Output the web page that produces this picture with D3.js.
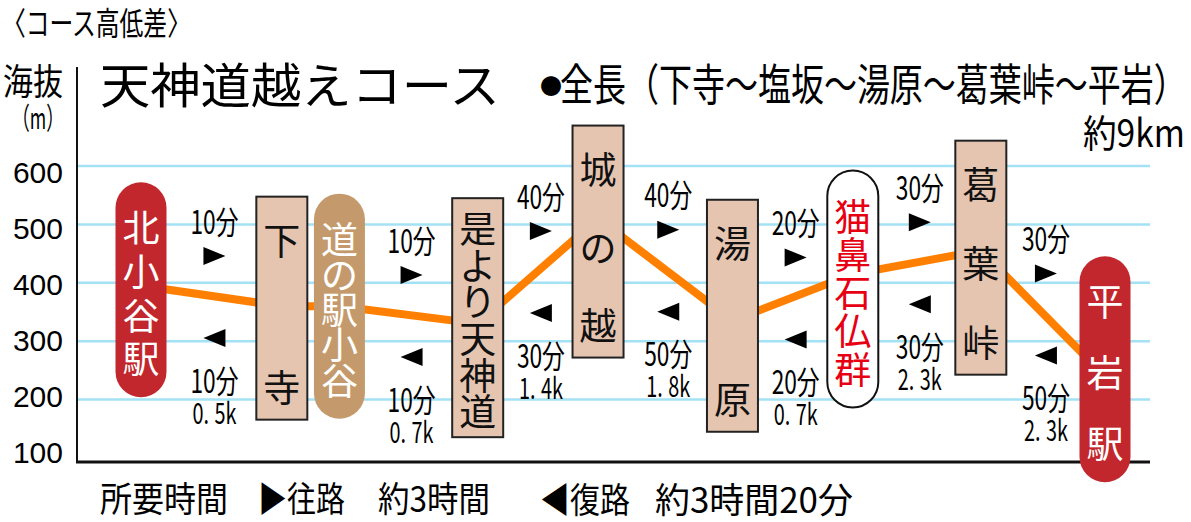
<!DOCTYPE html>
<html>
<head>
<meta charset="utf-8">
<script src="https://cdn.jsdelivr.net/npm/d3@7"></script>
<style>
  html, body { margin: 0; background: #fff; }
  svg { display: block; font-family: "Noto Sans CJK JP", "Noto Sans", sans-serif; }
</style>
</head>
<body>
<svg width="1191" height="522"></svg>
<script>
// --- Data ---
const stations = ["北小谷駅", "下寺", "道の駅小谷", "是より天神道", "城の越", "湯原", "猫鼻石仏群", "葛葉峠", "平岩駅"];
const elevations = [395, 360, 360, 330, 510, 335, 415, 455, 240];
const kinds = ["station", "spot", "michi", "spot", "spot", "spot", "sight", "spot", "station"];
const slots = [0, 1.1, 1.55, 2.63, 3.57, 4.62, 5.56, 6.56, 7.53]; // schematic order along the course
const legs = [[0, 1], [2, 3], [3, 4], [4, 5], [5, 6], [6, 7], [7, 8]];
const outbound = ["10分", "10分", "40分", "40分", "20分", "30分", "30分"];
const inbound = ["10分", "10分", "30分", "50分", "20分", "30分", "50分"];
const legDist = ["0.5k", "0.7k", "1.4k", "1.8k", "0.7k", "2.3k", "2.3k"];
const yTicks = [100, 200, 300, 400, 500, 600];

// --- Layout tweaks (px) ---
const boxShift = [4, 2, 0, -6, 23, -5, 15, 7, -7];
const boxH = [215, 223, 225, 239, 232, 232, 237, 234, 226];

const svg = d3.select("svg");
const x = d3.scaleLinear().domain([0, 7.53]).range([141, 1105]);
const y = d3.scaleLinear().domain([100, 600]).range([458, 166]);
const yLabel = d3.scaleLinear().domain([100, 600]).range([452, 172]);

const style = {
  station: { fill: "#c1272d", stroke: "none", text: "#fff", rx: 25.5 },
  michi:   { fill: "#c49a6c", stroke: "none", text: "#fff", rx: 25.5 },
  sight:   { fill: "#fff", stroke: "#111", text: "#e60012", rx: 25.5 },
  spot:    { fill: "#e6c5b0", stroke: "#222", text: "#111", rx: 0 }
};

// squeeze a text horizontally to a given width (condensed gothic look)
function squeeze(sel, px, py, width) {
  sel.each(function () {
    const w = this.getBBox().width;
    d3.select(this).attr("transform", `translate(${px},${py}) scale(${width / w},1)`);
  });
  return sel;
}
function label(txt, px, py, size, width, anchor = "start") {
  const t = svg.append("text")
    .attr("dominant-baseline", "central")
    .attr("text-anchor", anchor)
    .attr("font-size", size)
    .text(txt);
  return squeeze(t, px, py, width);
}
label("〈コース高低差〉", 2, 21, 32, 189);
label("海抜", 3, 80, 36, 60);
label("（m）", 12, 116, 30, 52);
label("天神道越えコース", 100, 82, 48, 400);
svg.append("text").attr("x", 540).attr("y", 84).attr("dominant-baseline", "central")
  .attr("font-size", 22).text("●");
label("全長（下寺～塩坂～湯原～葛葉峠～平岩）", 560, 82, 44, 627);
label("約9km", 1083, 130, 38, 102);

// legend
label("所要時間", 100, 497, 35, 128);
label("▶往路", 258, 497, 35, 87);
label("約3時間", 378, 497, 35, 112);
label("◀復路", 540, 497, 35, 90);
label("約3時間20分", 655, 497, 35, 198);

// grid + axis
const xLeft = 77, xRight = 1150;
svg.append("g").selectAll("line")
  .data(yTicks.filter(d => d > 100))
  .join("line")
  .attr("x1", xLeft).attr("x2", xRight)
  .attr("y1", d => y(d)).attr("y2", d => y(d))
  .attr("stroke", "#a3e1f4").attr("stroke-width", 2.5);

svg.append("g").selectAll("text")
  .data(yTicks)
  .join("text")
  .attr("x", 63).attr("y", d => yLabel(d))
  .attr("text-anchor", "end")
  .attr("dominant-baseline", "central")
  .attr("font-family", "'Liberation Sans', Arial, sans-serif")
  .attr("font-size", 30)
  .text(d => d);

svg.append("line").attr("x1", xLeft).attr("x2", xLeft).attr("y1", 67).attr("y2", 463)
  .attr("stroke", "#111").attr("stroke-width", 2);
svg.append("line").attr("x1", xLeft - 1).attr("x2", xRight).attr("y1", 462).attr("y2", 462)
  .attr("stroke", "#111").attr("stroke-width", 3);

// profile line
const line = d3.line().x(i => x(slots[i])).y(i => y(elevations[i]));
svg.append("path")
  .attr("d", line(d3.range(stations.length)))
  .attr("fill", "none").attr("stroke", "#ff8000").attr("stroke-width", 8);

// station boxes
const gBox = svg.append("g").selectAll("g")
  .data(stations)
  .join("g")
  .attr("transform", (d, i) => `translate(${x(slots[i])},${y(elevations[i]) + boxShift[i]})`);

gBox.append("rect")
  .attr("x", -25.5).attr("width", 51)
  .attr("y", (d, i) => -boxH[i] / 2).attr("height", (d, i) => boxH[i])
  .attr("rx", (d, i) => style[kinds[i]].rx)
  .attr("fill", (d, i) => style[kinds[i]].fill)
  .attr("stroke", (d, i) => style[kinds[i]].stroke)
  .attr("stroke-width", 2);

gBox.each(function (name, i) {
  const chars = Array.from(name), n = chars.length, h = boxH[i];
  const pill = style[kinds[i]].rx > 0;
  const padTop = pill ? 44 : (n > 3 ? 29 : 42);
  const padBot = pill ? 40 : (n > 3 ? 27 : 34);
  const top = -h / 2 + padTop, bot = h / 2 - padBot;
  d3.select(this).selectAll("text")
    .data(chars)
    .join("text")
    .attr("x", 0)
    .attr("y", (c, j) => top + (bot - top) * j / (n - 1))
    .attr("text-anchor", "middle")
    .attr("dominant-baseline", "central")
    .attr("font-size", 37)
    .attr("fill", style[kinds[i]].text)
    .text(c => c);
});

// leg labels: times, arrows, distances
const gLeg = svg.append("g").selectAll("g")
  .data(legs)
  .join("g")
  .attr("transform", ([a, b]) => {
    const mx = (x(slots[a]) + x(slots[b])) / 2 + 3;
    const my = (y(elevations[a]) + y(elevations[b])) / 2;
    return `translate(${mx},${my})`;
  });

squeeze(gLeg.append("text")
  .attr("text-anchor", "middle").attr("dominant-baseline", "central")
  .attr("font-size", 32)
  .text((d, k) => outbound[k]), 0, -76, 48);
gLeg.append("path").attr("d", "M-11,-49 L11,-40 L-11,-31 Z").attr("fill", "#000");
gLeg.append("path").attr("d", "M11,33 L-11,42 L11,51 Z").attr("fill", "#000");
squeeze(gLeg.append("text")
  .attr("text-anchor", "middle").attr("dominant-baseline", "central")
  .attr("font-size", 32)
  .text((d, k) => inbound[k]), 0, 83, 48);
const dist = gLeg.append("text")
  .attr("text-anchor", "middle").attr("dominant-baseline", "central")
  .attr("font-size", 29);
dist.append("tspan").text((d, k) => legDist[k].split(".")[0] + ".");
dist.append("tspan").attr("dx", 8).text((d, k) => legDist[k].split(".")[1]);
squeeze(dist, 0, 115, 44);
</script>
</body>
</html>
